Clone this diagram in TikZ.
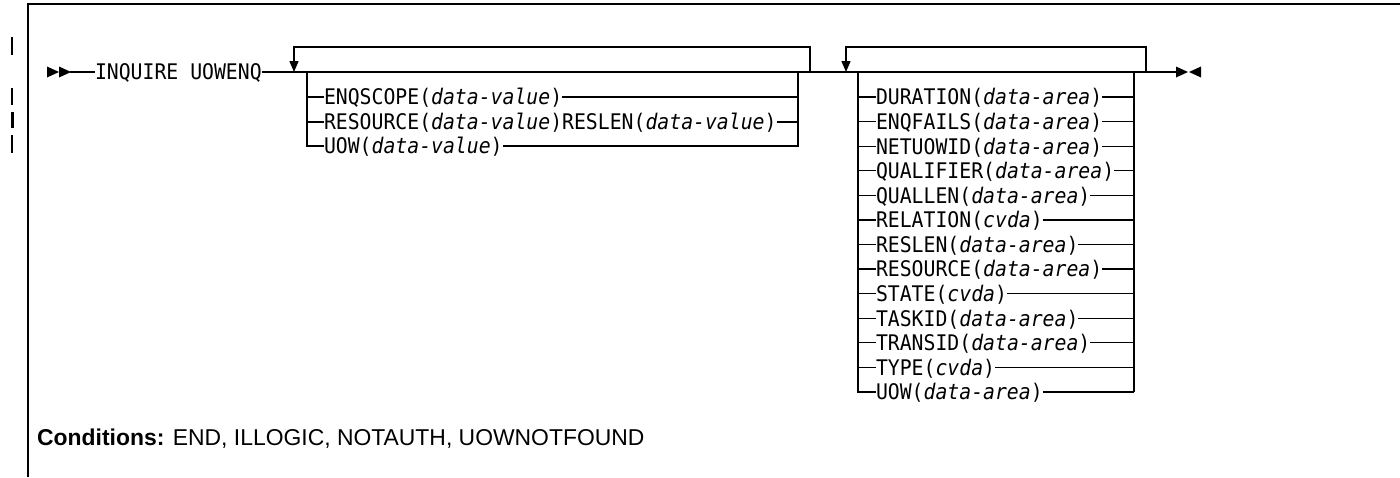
\documentclass[tikz,border=0pt]{standalone}
\usepackage{fontspec}
\usetikzlibrary{arrows.meta}
\newfontfamily\synfont[FakeStretch=0.92]{DejaVu Sans Mono}
\newfontfamily\condfont{Liberation Sans}
\begin{document}
\begin{tikzpicture}[x=1pt,y=-1pt,
  syn/.style={line width=1.3pt},
  loopln/.style={line width=1.3pt,-{Triangle[width=9pt,length=11pt]}},
  lbl/.style={anchor=west, inner sep=0pt, outer sep=0pt,
    font=\synfont\fontsize{21.5}{26}\selectfont, text height=15.7pt, text depth=0pt},
  chbar/.style={line width=2pt},
  frameln/.style={line width=1.5pt},
]
\useasboundingbox (0,0) rectangle (1400,477);
% frame
\draw[frameln] (28,477) -- (28,4) -- (1400,4);
% change bars
\draw[chbar] (12,37) -- (12,55);
\draw[chbar] (12,88) -- (12,105);
\draw[line width=3pt] (12,112) -- (12,128);
\draw[chbar] (12,135) -- (12,153);

% start symbol
\fill (47,66.5) -- (47,77.5) -- (59,72) -- cycle;
\fill (59,66.5) -- (59,77.5) -- (71,72) -- cycle;
\coordinate (start) at (70,72);
\node[lbl] (cmd) at (95,72) {INQUIRE UOWENQ};
\draw[syn] (start) -- (cmd.west);
% end symbol
\coordinate (endp) at (1178,72);
\draw[syn] (cmd.east) -- (endp);
\fill (1176,66.5) -- (1176,77.5) -- (1188,72) -- cycle;
\fill (1201,66.5) -- (1201,77.5) -- (1189,72) -- cycle;

% ---------- group 1 ----------
\coordinate (g1in) at (294,72);
\coordinate (g1out) at (810,72);
\coordinate (g1l) at (307,72);
\coordinate (g1r) at (798,72);
\draw[loopln] (g1out) -- (810,47) -| (g1in);
\node[lbl] (a1) at (324,97) {ENQSCOPE(\textit{data-value})};
\node[lbl] (a2) at (324,122) {RESOURCE(\textit{data-value})RESLEN(\textit{data-value})};
\node[lbl] (a3) at (324,146) {UOW(\textit{data-value})};
\draw[syn] (g1l) |- (a3.west);
\draw[syn] (g1l |- a1.west) -- (a1.west);
\draw[syn] (g1l |- a2.west) -- (a2.west);
\draw[syn] (a3.east) -| (g1r);
\draw[syn] (a1.east) -- (a1.east -| g1r);
\draw[syn] (a2.east) -- (a2.east -| g1r);

% ---------- group 2 ----------
\coordinate (g2in) at (846,72);
\coordinate (g2out) at (1146,72);
\coordinate (g2l) at (858,72);
\coordinate (g2r) at (1134,72);
\draw[loopln] (g2out) -- (1146,47) -| (g2in);
\foreach [count=\i] \t in {
  {DURATION(\textit{data-area})},
  {ENQFAILS(\textit{data-area})},
  {NETUOWID(\textit{data-area})},
  {QUALIFIER(\textit{data-area})},
  {QUALLEN(\textit{data-area})},
  {RELATION(\textit{cvda})},
  {RESLEN(\textit{data-area})},
  {RESOURCE(\textit{data-area})},
  {STATE(\textit{cvda})},
  {TASKID(\textit{data-area})},
  {TRANSID(\textit{data-area})},
  {TYPE(\textit{cvda})},
  {UOW(\textit{data-area})}} {
  \node[lbl] (b\i) at (876,{97+24.58*(\i-1)}) {\t};
  \draw[syn] (b\i.east) -- (b\i.east -| g2r);
  \ifnum\i<13 \draw[syn] (g2l |- b\i.west) -- (b\i.west); \fi
}
\draw[syn] (g2l) |- (b13.west);
\draw[syn] (g2r) -- (g2r |- b13.east);

% conditions
\node[anchor=base west, inner sep=0pt, font=\condfont\fontsize{22.9}{27}\selectfont]
  (cond) at (37,445) {\textbf{Conditions:} END, ILLOGIC, NOTAUTH, UOWNOTFOUND};
\end{tikzpicture}
\end{document}
